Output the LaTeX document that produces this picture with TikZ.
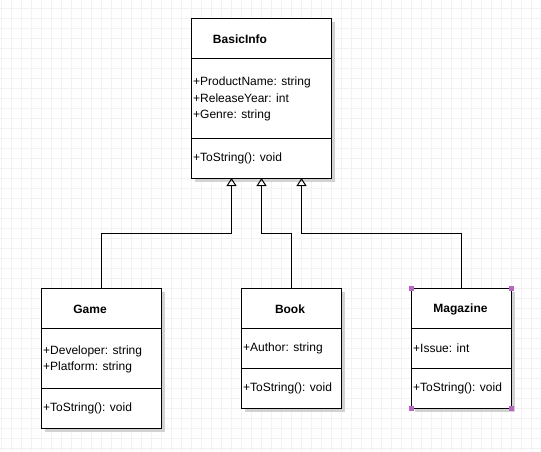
\documentclass[tikz,border=0pt]{standalone}
\usepackage{fontspec}
\setmainfont{Liberation Sans}
\usetikzlibrary{arrows.meta, shadows}
\definecolor{gridgray}{RGB}{242,242,242}
\definecolor{shadowgray}{RGB}{210,210,210}
\definecolor{handlepurple}{RGB}{182,102,192}
\tikzset{
    every picture/.style={x=1pt, y=-1pt},
    classbox/.style={draw, line width=1pt, fill=white, inner sep=0pt, outer sep=0pt,
        anchor=north west,
        drop shadow={shadow xshift=3.5pt, shadow yshift=-3.5pt, fill=shadowgray, opacity=1}},
    classname/.style={font=\fontsize{12pt}{14pt}\selectfont\bfseries, inner sep=0pt},
    member/.style={font=\fontsize{12pt}{14pt}\selectfont, anchor=west, inner sep=0pt},
    divider/.style={line width=1pt},
    inherit/.style={line width=1pt, -{Triangle[open, width=10pt, length=8pt]}},
    handle/.style={fill=handlepurple, minimum size=5pt, inner sep=0pt}
}

\begin{document}
\begin{tikzpicture}
    \useasboundingbox (0,0) rectangle (541,451);
    \fill[white] (0,0) rectangle (541,451);

    % Grid
    \foreach \x in {1,11,...,541} {
        \draw[gridgray, line width=1pt] (\x,0) -- (\x,451);
    }
    \foreach \y in {8.5,18.5,...,451} {
        \draw[gridgray, line width=1pt] (0,\y) -- (541,\y);
    }

    % Class boxes
    \node[classbox, minimum width=140, minimum height=160] (basic) at (191.5,18) {};
    \node[classbox, minimum width=120, minimum height=140] (game) at (41.5,288) {};
    \node[classbox, minimum width=100, minimum height=120] (book) at (241.5,288) {};
    \node[classbox, minimum width=100, minimum height=120] (magazine) at (411.5,288) {};

    % Compartment lines
    \draw[divider] (191.5,58) -- (331.5,58);
    \draw[divider] (191.5,138) -- (331.5,138);
    \draw[divider] (41.5,328) -- (161.5,328);
    \draw[divider] (41.5,388) -- (161.5,388);
    \draw[divider] (241.5,328) -- (341.5,328);
    \draw[divider] (241.5,368) -- (341.5,368);
    \draw[divider] (411.5,328) -- (511.5,328);
    \draw[divider] (411.5,368) -- (511.5,368);

    % BasicInfo
    \node[classname] (basicname) at (240,39) {BasicInfo};
    \node[member] (basicprod) at (193,82) {+ProductName: string};
    \node[member] (basicyear) at (193,98.5) {+ReleaseYear: int};
    \node[member] (basicgenre) at (193,115) {+Genre: string};
    \node[member] (basicstr) at (193,158) {+ToString(): void};

    % Game
    \node[classname] (gamename) at (90,309) {Game};
    \node[member] (gamedev) at (43,351) {+Developer: string};
    \node[member] (gameplat) at (43,367.5) {+Platform: string};
    \node[member] (gamestr) at (43,408.5) {+ToString(): void};

    % Book
    \node[classname] (bookname) at (290,309) {Book};
    \node[member] (bookauthor) at (243,348.5) {+Author: string};
    \node[member] (bookstr) at (243,388.5) {+ToString(): void};

    % Magazine
    \node[classname] (magname) at (460.5,309) {Magazine};
    \node[member] (magissue) at (413,348.5) {+Issue: int};
    \node[member] (magstr) at (413,388.5) {+ToString(): void};

    % Selection handles
    \node[handle] (hnw) at (magazine.north west) {};
    \node[handle] (hne) at (magazine.north east) {};
    \node[handle] (hsw) at (magazine.south west) {};
    \node[handle] (hse) at (magazine.south east) {};

    % Inheritance arrows
    \coordinate (tipgame) at (231.5,178);
    \coordinate (tipbook) at (261.5,178);
    \coordinate (tipmag) at (301.5,178);
    \draw[inherit] (game.north) -- ++(0,-55) -| (tipgame);
    \draw[inherit] (book.north) -- ++(0,-55) -| (tipbook);
    \draw[inherit] (magazine.north) -- ++(0,-55) -| (tipmag);
\end{tikzpicture}
\end{document}
